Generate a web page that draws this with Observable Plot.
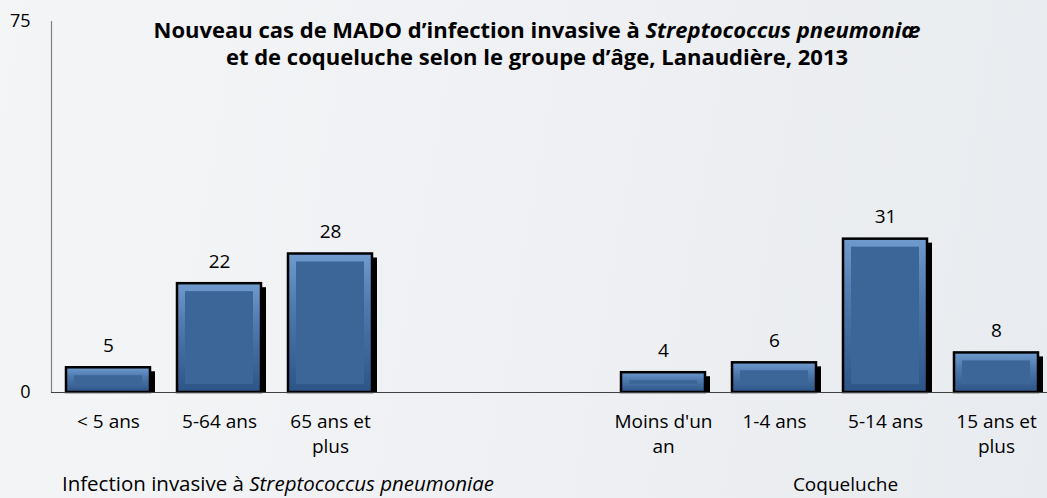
<!DOCTYPE html>
<html>
<head>
<meta charset="utf-8">
<script src="https://cdn.jsdelivr.net/npm/d3@7"></script>
<script src="https://cdn.jsdelivr.net/npm/@observablehq/plot@0.6"></script>
<style>
  html, body { margin: 0; padding: 0; }
  body {
    width: 1047px; height: 498px; overflow: hidden; position: relative;
    background: linear-gradient(100deg, #f4f5f7 0%, #eef0f3 55%, #e8ebef 100%);
    font-family: "Open Sans", sans-serif;
  }
  #title {
    position: absolute; left: 0; top: 16px; width: 1074px;
    text-align: center; font-weight: bold; font-size: 22px; line-height: 27px; color: #000;
  }
  #chart { position: absolute; left: 0; top: 0; }
</style>
</head>
<body>
<div id="chart"></div>
<div id="title">Nouveau cas de MADO d’infection invasive à <i>Streptococcus pneumoniæ</i><br>et de coqueluche selon le groupe d’âge, Lanaudière, 2013</div>
<script>
// ---- data ----
const groupLabels = ["Infection invasive à Streptococcus pneumoniae", "Coqueluche"];
const pneumoCategories = ["< 5 ans", "5-64 ans", "65 ans et plus"];
const pneumoValues = [5, 22, 28];
const coqCategories = ["Moins d'un an", "1-4 ans", "5-14 ans", "15 ans et plus"];
const coqValues = [4, 6, 31, 8];
const gapSlots = ["gap1", "gap2"];
const tickLabels = {
  "< 5 ans": "< 5 ans",
  "5-64 ans": "5-64 ans",
  "65 ans et plus": "65 ans et\nplus",
  "Moins d'un an": "Moins d'un\nan",
  "1-4 ans": "1-4 ans",
  "5-14 ans": "5-14 ans",
  "15 ans et plus": "15 ans et\nplus"
};
const yTicks = [0, 75];

const domain = [...pneumoCategories, ...gapSlots, ...coqCategories];
const data = [
  ...pneumoCategories.map((c, i) => ({cat: c, value: pneumoValues[i]})),
  ...coqCategories.map((c, i) => ({cat: c, value: coqValues[i]}))
];

const chart = Plot.plot({
  width: 1047,
  height: 498,
  marginLeft: 51,
  marginRight: 0,
  marginTop: 21,
  marginBottom: 106,
  style: {background: "transparent", fontFamily: "Open Sans, sans-serif", fontSize: "19px", color: "#000", overflow: "visible"},
  x: {domain, range: [51, 1052], paddingInner: 0.245, paddingOuter: 0.1225, axis: null},
  y: {domain: [0, 75], axis: null},
  marks: [
    Plot.frame({anchor: "left", stroke: "#808080", strokeWidth: 1.2}),
    // shadow
    Plot.barY(data, {x: "cat", y: "value", fill: "#000", dx: 5, insetTop: 4}),
    // bevel frame
    Plot.barY(data, {x: "cat", y: "value", fill: "url(#bevelGrad)", stroke: "#000", strokeWidth: 2.5}),
    // inner face
    Plot.barY(data, {x: "cat", y: "value", fill: "#3d6698", insetLeft: 8, insetRight: 8, insetTop: 8, insetBottom: 8}),
    Plot.ruleY([0], {stroke: "#404040", strokeWidth: 1.2}),
    Plot.axisY({ticks: yTicks, tickSize: 0, tickPadding: 21, label: null, fontSize: 18, fill: "#000"}),
    Plot.axisX({tickSize: 0, tickPadding: 18, lineHeight: 1.3, fontSize: 19, fill: "#000", label: null,
      tickFormat: c => tickLabels[c] ?? ""}),
    Plot.text(data, {x: "cat", y: "value", text: d => String(d.value), dy: -22, lineAnchor: "middle", fontSize: 19, fill: "#000"}),
    Plot.text([{cat: pneumoCategories[0], label: groupLabels[0]}], {x: "cat", text: "label", frameAnchor: "bottom",
      textAnchor: "start", dx: -46.6, dy: 92, lineAnchor: "middle", fontSize: 20.5, fill: "#000"}),
    Plot.text([{cat: coqCategories[2], label: groupLabels[1]}], {x: "cat", text: "label", frameAnchor: "bottom",
      textAnchor: "middle", dx: -40, dy: 92, lineAnchor: "middle", fontSize: 19, fill: "#000"})
  ]
});

// gradient for bevel
const svg = d3.select(chart);
const defs = svg.insert("defs", ":first-child");
const g = defs.append("linearGradient").attr("id", "bevelGrad").attr("x1", 0).attr("y1", 0).attr("x2", 0).attr("y2", 1);
g.append("stop").attr("offset", "0%").attr("stop-color", "#6f9bcf");
g.append("stop").attr("offset", "35%").attr("stop-color", "#507cb1");
g.append("stop").attr("offset", "100%").attr("stop-color", "#2d5487");

// italic species name in group label
svg.selectAll("text").each(function() {
  const t = d3.select(this);
  if (t.text() === groupLabels[0]) {
    const parts = ["Infection invasive à ", "Streptococcus pneumoniae"];
    t.text(null);
    t.append("tspan").text(parts[0]);
    t.append("tspan").attr("font-style", "italic").text(parts[1]);
  }
});

document.getElementById("chart").appendChild(chart);
</script>
</body>
</html>
